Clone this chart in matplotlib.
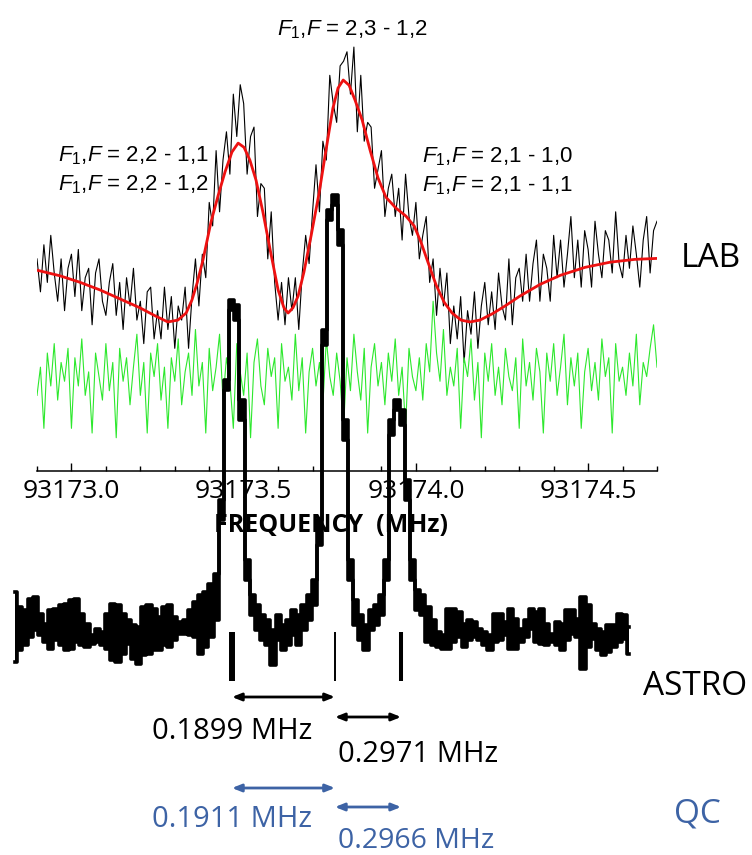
import numpy as np
import matplotlib
matplotlib.use("Agg")
import matplotlib.pyplot as plt
from matplotlib.ticker import MultipleLocator, FormatStrFormatter

plt.rcParams['font.family'] = ['Open Sans', 'DejaVu Sans']
plt.rcParams['mathtext.fontset'] = 'custom'
plt.rcParams['mathtext.rm'] = 'Liberation Sans'
plt.rcParams['mathtext.it'] = 'Liberation Sans:italic'

# ---- lab spectrum (arbitrary intensity), 0.01 MHz channels from 93172.90 ----
lab_start = 93172.90
lab_step = 0.01
lab_signal = [
    45, 38, 48, 40, 50, 42, 36, 45, 34, 43,
    46, 37, 47, 34, 41, 43, 31, 42, 45, 36,
    33, 40, 44, 33, 40, 30, 41, 35, 43, 32,
    36, 27, 38, 39, 28, 34, 28, 39, 30, 37,
    26, 35, 32, 39, 26, 37, 45, 35, 46, 41,
    57, 52, 68, 55, 66, 72, 63, 80, 71, 82,
    78, 63, 71, 73, 54, 61, 60, 45, 55, 40,
    32, 40, 31, 41, 34, 41, 30, 42, 50, 44,
    55, 65, 55, 70, 66, 84, 78, 74, 86, 87,
    89, 80, 90, 72, 84, 70, 74, 73, 60, 64,
    68, 54, 60, 63, 54, 60, 49, 63, 54, 50,
    57, 45, 50, 54, 40, 45, 33, 43, 35, 42,
    27, 35, 28, 37, 23, 34, 29, 38, 26, 35,
    40, 31, 38, 30, 42, 35, 32, 45, 31, 41,
    43, 36, 46, 36, 44, 49, 36, 46, 43, 36,
    50, 41, 49, 39, 46, 54, 41, 49, 39, 51,
    47, 39, 53, 46, 41, 51, 49, 42, 55, 44,
    41, 50, 43, 52, 46, 39, 49, 54, 42, 51,
    53,
]
lab_residual = [
    16, 22, 9, 25, 18, 27, 15, 23, 19, 26,
    9, 24, 18, 28, 16, 21, 8, 25, 20, 15,
    27, 17, 23, 7, 26, 19, 24, 14, 22, 29,
    16, 23, 8, 25, 20, 27, 15, 22, 9, 24,
    19, 28, 14, 21, 25, 16, 30, 18, 23, 8,
    26, 17, 22, 29, 15, 24, 19, 9, 27, 21,
    16, 25, 7, 23, 28, 18, 14, 26, 20, 24,
    9, 27, 19, 22, 15, 29, 17, 24, 8, 21,
    26, 18, 23, 14, 28, 20, 16, 25, 19, 9,
    24, 17, 29, 21, 15, 26, 8, 22, 27, 18,
    23, 14, 25, 19, 28, 16, 22, 9, 26, 20,
    17, 24, 15, 27, 21, 36, 25, 19, 30, 16,
    22, 18, 26, 9, 24, 20, 28, 15, 23, 7,
    25, 19, 27, 16, 22, 14, 26, 20, 17, 24,
    9, 28, 18, 23, 15, 26, 21, 8, 25, 19,
    27, 16, 22, 29, 14, 24, 18, 25, 9, 21,
    26, 17, 23, 15, 28, 20, 24, 8, 27, 19,
    22, 16, 25, 18, 29, 14, 23, 20, 26, 31,
    22,
]

# fitted profile (red)
fit_freq = [
    93172.900, 93172.967, 93173.022, 93173.083, 93173.147, 93173.199, 93173.243,
    93173.280, 93173.309, 93173.333, 93173.350, 93173.365, 93173.382, 93173.405,
    93173.426, 93173.446, 93173.466, 93173.484, 93173.501, 93173.518, 93173.536,
    93173.556, 93173.577, 93173.600, 93173.617, 93173.629, 93173.643, 93173.658,
    93173.675, 93173.696, 93173.719, 93173.739, 93173.759, 93173.774, 93173.789,
    93173.806, 93173.823, 93173.844, 93173.867, 93173.890, 93173.913, 93173.942,
    93173.971, 93173.995, 93174.015, 93174.035, 93174.059, 93174.082, 93174.105,
    93174.131, 93174.157, 93174.186, 93174.221, 93174.259, 93174.302, 93174.361,
    93174.419, 93174.491, 93174.564, 93174.636, 93174.700,
]
fit_val = [
    42.6, 41.4, 40.1, 38.4, 36.3, 34.6, 32.9,
    31.6, 32.0, 33.5, 36.3, 39.9, 44.8, 52.8,
    58.5, 63.5, 67.7, 69.6, 68.7, 66.0, 61.7,
    54.9, 46.9, 38.4, 34.6, 33.5, 34.6, 37.1,
    42.2, 50.0, 59.0, 68.1, 77.0, 81.3, 83.0,
    81.9, 78.8, 74.5, 68.1, 62.2, 58.1, 55.8,
    54.1, 52.0, 48.5, 44.3, 39.4, 35.8, 33.5,
    32.0, 31.6, 32.0, 33.3, 35.0, 37.1, 39.6,
    41.5, 43.2, 44.3, 44.9, 45.1,
]

# ---- astronomical spectrum (mK), 0.015 MHz bins: max / min of each bin ----
astro_start = 93172.835
astro_step = 0.015
astro_hi = [
    5.7, 2.7, 2.0, 4.3, 4.7, 1.3, -0.7, 2.0, 2.3, 3.0,
    3.3, 4.0, 4.3, 1.3, -0.7, -3.0, -1.7, -2.3, 1.3, 3.3,
    3.0, 1.3, 0.0, -1.0, -1.3, 2.7, 3.0, 2.3, 0.7, 2.7,
    3.0, 0.7, -0.3, 0.0, 2.0, 3.7, 5.0, 5.7, 7.3, 9.3,
    24, 48, 64, 63, 44, 12, 5, 3, 1, 0,
    -2, 1, -1, 0, 2, 1, 3, 5, 8, 20,
    58, 82, 85, 78, 40, 12, 4, 1, -1, 2,
    3, 5, 12, 40, 44, 42, 28, 12, 6, 5,
    2.7, 0.0, -2.3, -3.0, 2.3, 2.3, 1.7, -0.7, 0.0, -0.3,
    -1.7, -2.3, -3.0, 1.3, 1.3, -0.3, 2.3, 0.3, -1.7, 0.0,
    2.3, 1.7, 2.3, -0.7, -2.7, -0.3, -0.7, 2.0, 2.0, 0.3,
    4.7, 3.0, -0.7, -1.7, -2.3, -1.0, -1.0, 1.3, 1.0, -1.3,
]
astro_lo = [
    -8.3, -6.0, -5.0, -3.3, -2.0, -3.0, -4.3, -5.7, -4.0, -5.0,
    -6.0, -5.7, -4.3, -5.0, -5.3, -4.7, -4.3, -5.0, -5.7, -8.0,
    -8.3, -6.7, -4.7, -7.7, -8.7, -7.0, -6.7, -6.0, -6.0, -5.0,
    -5.3, -4.0, -2.7, -2.7, -3.0, -3.3, -6.7, -5.3, -3.3, 0.0,
    20, 46, 62, 60, 40, 8, 1, -2, -4, -5,
    -9, -4, -6, -5, -3, -5, -2, 0, 3, 15,
    55, 80, 83, 75, 36, 8, -1, -4, -6, -2,
    -1, 1, 8, 37, 42, 39, 24, 8, 2, 1,
    -4.3, -5.0, -5.3, -5.7, -5.7, -4.3, -3.3, -5.3, -4.0, -3.3,
    -4.0, -5.0, -6.0, -4.3, -4.0, -3.0, -5.7, -5.7, -4.3, -3.3,
    -1.7, -4.3, -4.7, -5.0, -4.3, -5.0, -6.0, -4.0, -2.7, -3.3,
    -9.7, -5.3, -3.7, -6.0, -7.0, -6.3, -5.3, -4.3, -3.7, -6.7,
]

# hyperfine components and separations
line_freqs = [93173.466, 93173.765, 93173.957]
line_widths = [4.3, 1.4, 2.9]
sep_astro = ['0.1899', '0.2971']
sep_qc = ['0.1911', '0.2966']
top_label = r'$F_1$,$F$ = 2,3 - 1,2'
left_labels = [r'$F_1$,$F$ = 2,2 - 1,1', r'$F_1$,$F$ = 2,2 - 1,2']
right_labels = [r'$F_1$,$F$ = 2,1 - 1,0', r'$F_1$,$F$ = 2,1 - 1,1']

QC_BLUE = '#3d63a5'

W, H = 752, 855
fig = plt.figure(figsize=(W / 100, H / 100), dpi=100)

# lab panel
lab_lo, lab_hi = 93172.9, 93174.7
ax_left, ax_w = 37 / W, 620 / W
ax_bot = (H - 470.7) / H
ax = fig.add_axes([ax_left, ax_bot, ax_w, 1 - ax_bot])
ax.patch.set_visible(False)
lab_freq = lab_start + lab_step * np.arange(len(lab_signal))
ax.plot(lab_freq, lab_signal, color='black', lw=0.8)
ax.plot(lab_freq, lab_residual, color='#2de82d', lw=0.8)
ax.plot(fit_freq, fit_val, color='#ee1111', lw=2.0)
ax.set_xlim(lab_lo, lab_hi)
ax.set_ylim(0, 100)
for s in ['left', 'right', 'top']:
    ax.spines[s].set_visible(False)
ax.spines['bottom'].set_linewidth(1.1)
ax.set_yticks([])
ax.xaxis.set_major_locator(MultipleLocator(0.5))
ax.xaxis.set_minor_locator(MultipleLocator(0.1))
ax.xaxis.set_major_formatter(FormatStrFormatter('%.1f'))
ax.tick_params(axis='x', which='major', direction='in', length=6, width=1.0,
               labelsize=19, pad=6)
ax.tick_params(axis='x', which='minor', direction='in', length=3.5, width=1.0)
ax.set_xlabel('FREQUENCY  (MHz)', fontsize=18, fontweight='bold')
ax.xaxis.set_label_coords((331 - 37) / 620, -61 / 470.7)
ax.xaxis.label.set_va('baseline')

# overlay for the astro spectrum, aligned to the lab frequency scale
per_fig = (lab_hi - lab_lo) / ax_w
full_lo = lab_lo - ax_left * per_fig
ax2 = fig.add_axes([0, 0, 1, 1], zorder=3)
ax2.patch.set_visible(False)
ax2.axis('off')
ax2.set_xlim(full_lo, full_lo + per_fig)
ax2.set_ylim(-47, 124)
astro_freq = astro_start + astro_step * np.arange(len(astro_hi))
ax2.fill_between(astro_freq, astro_lo, astro_hi, step='mid', color='black', lw=0)
ax2.step(astro_freq, astro_hi, where='mid', color='black', lw=2.6)
ax2.step(astro_freq, astro_lo, where='mid', color='black', lw=2.6)
ax2.vlines(line_freqs, -12.2, -2.4, colors='black', linewidths=line_widths)

def span_arrow(x0, x1, y, color):
    ax2.annotate('', xy=(x1, y), xytext=(x0, y),
                 arrowprops=dict(arrowstyle='<|-|>,head_length=0.55,head_width=0.22',
                                 color=color, lw=2.0, shrinkA=0, shrinkB=0))

span_arrow(line_freqs[0], line_freqs[1], -15.4, 'black')
span_arrow(line_freqs[1], line_freqs[2], -19.4, 'black')
span_arrow(line_freqs[0], line_freqs[1], -33.6, QC_BLUE)
span_arrow(line_freqs[1], line_freqs[2], -37.4, QC_BLUE)
x_right = line_freqs[1] + 0.009
ax2.text(line_freqs[0], -23.8, sep_astro[0] + ' MHz', ha='center', va='baseline', fontsize=21)
ax2.text(x_right, -28.4, sep_astro[1] + ' MHz', ha='left', va='baseline', fontsize=21)
ax2.text(line_freqs[0], -41.4, sep_qc[0] + ' MHz', ha='center', va='baseline',
         fontsize=21, color=QC_BLUE)
ax2.text(x_right, -45.5, sep_qc[1] + ' MHz', ha='left', va='baseline',
         fontsize=20.5, color=QC_BLUE)

# transition labels
lab_font = dict(family=['Liberation Sans', 'DejaVu Sans'], fontsize=16, va='baseline')
fig.text(277 / W, 1 - 35 / H, top_label, **lab_font)
fig.text(58 / W, 1 - 161 / H, left_labels[0], **lab_font)
fig.text(58 / W, 1 - 190 / H, left_labels[1], **lab_font)
fig.text(422 / W, 1 - 162 / H, right_labels[0], **lab_font)
fig.text(422 / W, 1 - 191 / H, right_labels[1], **lab_font)

fig.text(681 / W, 1 - 267 / H, 'LAB', fontsize=24, va='baseline')
fig.text(643 / W, 1 - 695 / H, 'ASTRO', fontsize=24, va='baseline')
fig.text(674 / W, 1 - 822 / H, 'QC', fontsize=24, va='baseline', color=QC_BLUE)

fig.savefig('out.png', dpi=100)
